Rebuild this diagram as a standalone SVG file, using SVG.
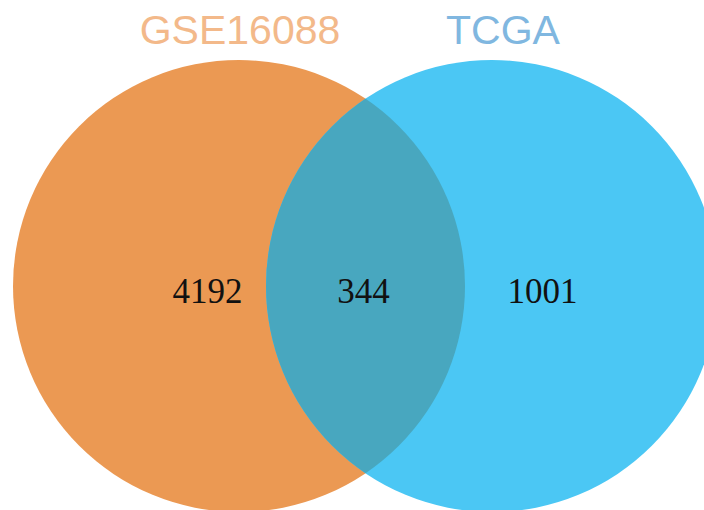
<svg xmlns="http://www.w3.org/2000/svg" width="704" height="510" viewBox="0 0 704 510">
<style>
.title{font-family:"Liberation Sans",Arial,sans-serif;font-size:41px;text-anchor:middle}
.num{font-family:"Liberation Serif","Times New Roman",serif;font-size:35px;fill:#111111;text-anchor:middle}
</style>
<defs>
<clipPath id="clipLeft"><circle cx="239" cy="286" r="226"/></clipPath>
</defs>
<rect width="704" height="510" fill="#ffffff"/>
<g id="set-gse16088">
<circle cx="239" cy="286" r="226" fill="#EB9953"/>
<text class="title" x="240" y="44" fill="#F3B98A">GSE16088</text>
<text class="num" x="207.5" y="303">4192</text>
</g>
<g id="set-tcga">
<circle cx="492" cy="286" r="226" fill="#4BC7F4"/>
<text class="title" x="503" y="44" fill="#80B7E0">TCGA</text>
<text class="num" x="542.5" y="303">1001</text>
</g>
<g id="overlap">
<circle cx="492" cy="286" r="226" fill="#48A7BF" clip-path="url(#clipLeft)"/>
<text class="num" x="363.5" y="303">344</text>
</g>
<g id="connectors"/>
</svg>
